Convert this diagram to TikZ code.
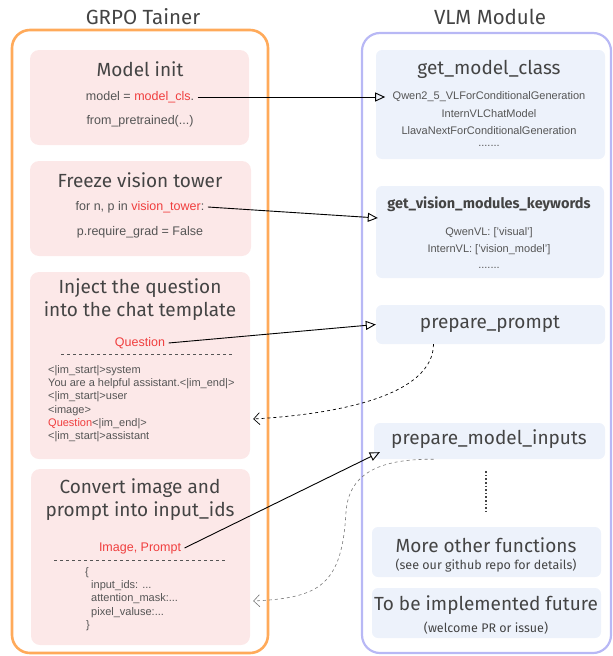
\documentclass[tikz,border=0pt]{standalone}
\usepackage{fontspec}
\setmainfont{Liberation Sans}
\newfontfamily\handfont{Fira Sans}
\usepackage{xcolor}
\usetikzlibrary{arrows.meta}

\definecolor{hlred}{HTML}{F03E3E}
\definecolor{trainerorange}{HTML}{FFAA5A}
\definecolor{modulelilac}{HTML}{B8B8F5}
\definecolor{boxpink}{HTML}{FCE8E8}
\definecolor{boxblue}{HTML}{EDF2FB}
\definecolor{titlegray}{HTML}{444444}
\definecolor{codegray}{HTML}{555555}

\begin{document}
\begin{tikzpicture}[x=1pt,y=-1pt,
  head/.style={font=\handfont\fontsize{20.5}{22}\selectfont, text=titlegray},
  boxtitle/.style={font=\handfont\fontsize{19}{23}\selectfont, text=titlegray, align=center},
  boxnote/.style={font=\handfont\fontsize{12.5}{14}\selectfont, text=titlegray},
  code/.style={font=\fontsize{12.5}{14}\selectfont, text=codegray},
  smallcode/.style={font=\fontsize{11}{13.3}\selectfont, text=codegray, align=left},
  listcode/.style={font=\fontsize{11}{13}\selectfont, text=codegray},
  pinkbox/.style={fill=boxpink, rounded corners=9pt, inner sep=0pt},
  bluebox/.style={fill=boxblue, rounded corners=6pt, inner sep=0pt},
  link/.style={line width=0.9pt, -{Triangle[open, length=10pt, width=9pt]}},
  back/.style={dashed, line width=0.7pt, -{Straight Barb[length=6pt, width=12pt]}}]
\useasboundingbox (0,0) rectangle (613,656);

% column headers and frames
\node[head] (lhead) at (143,17) {GRPO Tainer};
\node[head] (rhead) at (490,17) {VLM Module};
\draw[trainerorange, line width=2.6pt, rounded corners=18pt] (12,30) rectangle (268,653);
\draw[modulelilac, line width=2.2pt, rounded corners=18pt] (362,33) rectangle (611,653);

% trainer side
\node[pinkbox, minimum width=219pt, minimum height=95pt] (init) at (139.5,97.5) {};
\node[pinkbox, minimum width=221pt, minimum height=95pt] (freeze) at (140.5,208.5) {};
\node[pinkbox, minimum width=220pt, minimum height=187pt] (inject) at (140,365.5) {};
\node[pinkbox, minimum width=219pt, minimum height=176pt] (convert) at (140.5,557) {};

\node[boxtitle] (initT) at (140,69) {Model init};
\node[code] (mcls) at (140,97) {model = \textcolor{hlred}{model\_cls}.};
\node[code] (pretr) at (140,121) {from\_pretrained(...)};

\node[boxtitle] (freezeT) at (140,180) {Freeze vision tower};
\node[code] (vtow) at (140,207) {for n, p in \textcolor{hlred}{vision\_tower}:};
\node[code] (grad) at (140,232) {p.require\_grad = False};

\node[boxtitle] (injectT) at (140,300) {Inject the question\\into the chat template};
\node[code, text=hlred] (quest) at (140,343) {Question};
\draw[codegray, dashed, line width=0.6pt] (61,354) -- (233,354);
\node[smallcode, anchor=north west, inner sep=0pt] (tmpl) at (48,365)
  {<|im\_start|>system\\
   You are a helpful assistant.<|im\_end|>\\
   <|im\_start|>user\\
   <image>\\
   \textcolor{hlred}{Question}<|im\_end|>\\
   <|im\_start|>assistant};

\node[boxtitle] (convertT) at (140,500) {Convert image and\\prompt into input\_ids};
\node[code, text=hlred] (imgp) at (140,548) {Image, Prompt};
\draw[codegray, dashed, line width=0.6pt] (54,560) -- (227,560);
\node[smallcode, anchor=north west, inner sep=0pt] (ids) at (85,567)
  {\{\\
   \hspace{6pt}input\_ids: ...\\
   \hspace{6pt}attention\_mask:...\\
   \hspace{6pt}pixel\_valuse:...\\
   \hspace{1pt}\}};

% module side
\node[bluebox, minimum width=229pt, minimum height=109pt] (gmc) at (490.5,104.5) {};
\node[bluebox, minimum width=228pt, minimum height=92pt] (gvm) at (490,232) {};
\node[bluebox, minimum width=229pt, minimum height=39pt] (pp) at (490.5,324.5) {};
\node[bluebox, minimum width=231pt, minimum height=36pt] (pmi) at (489.5,441) {};
\node[bluebox, minimum width=229pt, minimum height=50pt] (more) at (486.5,552) {};
\node[bluebox, minimum width=229pt, minimum height=50pt] (tbi) at (486.5,613) {};

\node[boxtitle] (gmcT) at (489,69) {get\_model\_class};
\node[listcode] (qwen) at (489,97) {Qwen2\_5\_VLForConditionalGeneration};
\node[listcode] (intern) at (489,114) {InternVLChatModel};
\node[listcode] (llava) at (489,131) {LlavaNextForConditionalGeneration};
\node[listcode] (dotsA) at (489,146) {.......};

\node[boxtitle, font=\handfont\bfseries\fontsize{14.5}{16}\selectfont] (gvmT) at (489,204) {get\_vision\_modules\_keywords};
\node[listcode] (qvl) at (489,233) {QwenVL: ['visual']};
\node[listcode] (ivl) at (489,250) {InternVL: ['vision\_model']};
\node[listcode] (dotsB) at (489,268) {.......};

\node[boxtitle] (ppT) at (490,324) {prepare\_prompt};
\node[boxtitle] (pmiT) at (489,439) {prepare\_model\_inputs};
\draw[titlegray, dotted, line width=1.6pt] ([yshift=-12pt]pmi.south -| 486,0) -- ([yshift=-55pt]pmi.south -| 486,0);

\node[boxtitle] (moreT) at (486,545) {More other functions};
\node[boxnote] (moreS) at (486,566) {(see our github repo for details)};
\node[boxtitle] (tbiT) at (486,605) {To be implemented future};
\node[boxnote] (tbiS) at (486,628) {(welcome PR or issue)};

% calls from trainer into module
\draw[link] (mcls.east) -- ([xshift=-4pt]qwen.west);
\draw[link] (vtow.east) -- ([shift={(2,-14)}]gvm.west);
\draw[link] (quest.east) -- (pp.west);
\draw[link] (imgp.east) -- ([shift={(6,-7)}]pmi.south west);

% results handed back
\draw[back] ([xshift=-57pt]pp.south) .. controls (433,395) and (340,414) .. ([shift={(3,53.5)}]inject.east);
\draw[back, codegray!80, line width=0.6pt] ([xshift=-56pt]pmi.south)
  .. controls (385,459) and (349,470) .. (346,512)
  .. controls (342,585) and (320,598) .. ([shift={(3,44)}]convert.east);
\end{tikzpicture}
\end{document}
